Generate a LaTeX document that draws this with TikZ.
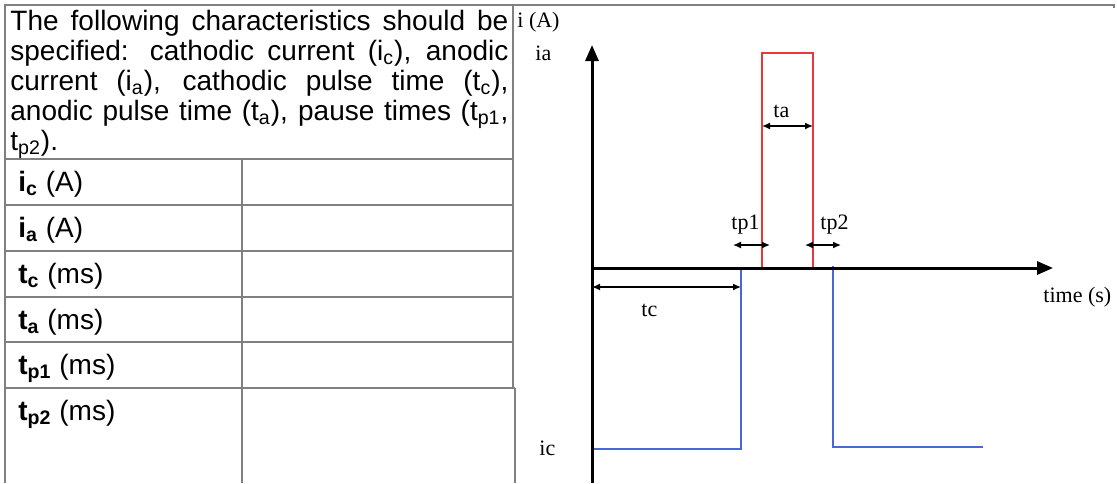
\documentclass[tikz,border=0pt]{standalone}
\usepackage{fontspec}
\setmainfont{Liberation Sans}
\newfontfamily\plotfont{Liberation Serif}
\usetikzlibrary{arrows.meta}

\definecolor{rulegray}{RGB}{128,128,128}
\definecolor{pulsered}{RGB}{232,56,56}
\definecolor{pulseblue}{RGB}{72,104,214}
\tolerance=10000
\hbadness=10000

\begin{document}
\begin{tikzpicture}[
  x=0.5pt, y=-0.5pt,
  rule/.style={draw=rulegray, line width=1pt},
  rowlab/.style={anchor=base west, inner sep=0pt, font=\fontsize{14pt}{15pt}\selectfont},
  lab/.style={anchor=base west, inner sep=0pt, font=\plotfont\fontsize{11pt}{13pt}\selectfont},
  axis/.style={line width=1.5pt, -{Triangle[length=8pt,width=6.5pt]}},
  dim/.style={line width=0.7pt, {Latex[length=4pt,width=3.5pt]}-{Latex[length=4pt,width=3.5pt]}},
  anodic/.style={draw=pulsered, line width=1pt},
  cathodic/.style={draw=pulseblue, line width=1pt}
]
  \useasboundingbox (0,0) rectangle (1117,483);

  % table grid
  \draw[rule] (5,483) -- (5,5) -- (1114,5) -- (1114,8);
  \draw[rule] (513,5) -- (513,388);
  \draw[rule] (515,388) -- (515,483);
  \draw[rule] (242,159) -- (242,483);
  \draw[rule] (5,159) -- (513,159);
  \draw[rule] (5,205) -- (513,205);
  \draw[rule] (5,251) -- (513,251);
  \draw[rule] (5,297) -- (513,297);
  \draw[rule] (5,342) -- (513,342);
  \draw[rule] (5,388) -- (515,388);

  \node[anchor=base west, inner sep=0pt, text width=249pt, align=justify,
        font=\fontsize{14pt}{15pt}\selectfont] (hdr) at (10,30)
        {The following characteristics should be\linebreak
         specified: cathodic current (i\textsubscript{c}), anodic\linebreak
         current (i\textsubscript{a}), cathodic pulse time (t\textsubscript{c}),\linebreak
         anodic pulse time (t\textsubscript{a}), pause times (t\textsubscript{p1},\linebreak
         t\textsubscript{p2}).};

  \node[rowlab] (ric)  at (18,191) {\textbf{i\textsubscript{c}} (A)};
  \node[rowlab] (ria)  at (18,237) {\textbf{i\textsubscript{a}} (A)};
  \node[rowlab] (rtc)  at (18,283) {\textbf{t\textsubscript{c}} (ms)};
  \node[rowlab] (rta)  at (18,329) {\textbf{t\textsubscript{a}} (ms)};
  \node[rowlab] (rtp1) at (18,374) {\textbf{t\textsubscript{p1}} (ms)};
  \node[rowlab] (rtp2) at (18,420) {\textbf{t\textsubscript{p2}} (ms)};

  % pulse diagram
  \coordinate (O)    at (592,268);
  \coordinate (ytop) at (592,45);
  \coordinate (ybot) at (592,483);
  \coordinate (xend) at (1053,268);

  \coordinate (c0) at (592,449);
  \coordinate (c1) at (741,449);
  \coordinate (c2) at (741,268);
  \coordinate (a0) at (762,268);
  \coordinate (a1) at (762,53);
  \coordinate (a2) at (813,53);
  \coordinate (a3) at (813,268);
  \coordinate (d0) at (833,266);
  \coordinate (d1) at (833,447);
  \coordinate (d2) at (983,447);

  \draw[cathodic] (c0) -- (c1) -- (c2);
  \draw[anodic]   (a0) -- (a1) -- (a2) -- (a3);
  \draw[cathodic] (d0) -- (d1) -- (d2);

  \draw[axis] (ybot) -- (ytop);
  \draw[axis] (O) -- (xend);

  % time intervals
  \coordinate (tcl)  at (592,287);
  \coordinate (tcr)  at (741,287);
  \coordinate (tal)  at (762,126);
  \coordinate (tar)  at (813,126);
  \coordinate (tp1l) at (733,245);
  \coordinate (tp1r) at (770,245);
  \coordinate (tp2l) at (805,245);
  \coordinate (tp2r) at (841,245);
  \draw[dim] (tcl) -- (tcr);
  \draw[dim] (tal) -- (tar);
  \draw[dim] (tp1l) -- (tp1r);
  \draw[dim] (tp2l) -- (tp2r);

  \node[lab] (iA)    at (517,27)  {i (A)};
  \node[lab] (ia)    at (535,60)  {ia};
  \node[lab] (ta)    at (773,117) {ta};
  \node[lab] (tpone) at (731,229) {tp1};
  \node[lab] (tptwo) at (820,229) {tp2};
  \node[lab] (tc)    at (641,316) {tc};
  \node[lab] (ic)    at (539,455) {ic};
  \node[lab] (time)  at (1043,302) {time (s)};
\end{tikzpicture}
\end{document}
